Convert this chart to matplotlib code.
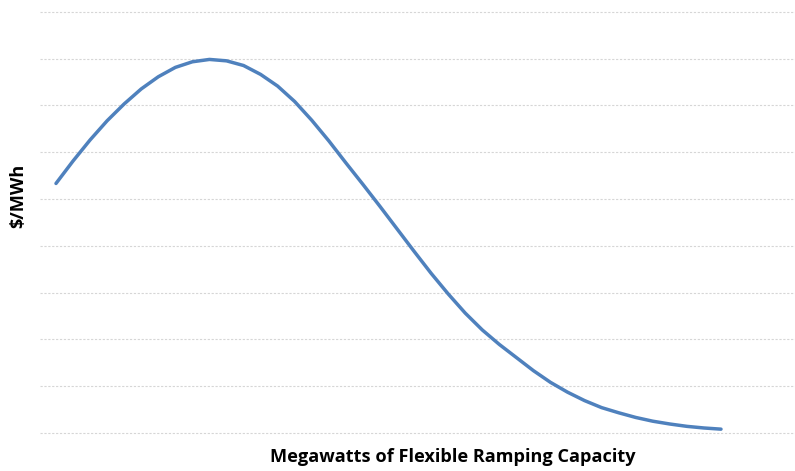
import matplotlib
matplotlib.use("Agg")
import matplotlib.pyplot as plt
import numpy as np

# Data, price in $/MWh-like units, 40 capacity steps
capacity_index = list(range(40))
price = [53.3, 58.1, 62.6, 66.7, 70.3, 73.5, 76.1, 78.1, 79.3, 79.8,
         79.5, 78.5, 76.6, 74.1, 70.8, 66.8, 62.4, 57.7, 53.1, 48.4,
         43.6, 38.8, 34.1, 29.7, 25.6, 22.0, 18.9, 16.1, 13.3, 10.8,
         8.7, 6.9, 5.4, 4.3, 3.3, 2.5, 1.9, 1.4, 1.05, 0.8]
grid_levels = [0, 10, 20, 30, 40, 50, 60, 70, 80, 90]

x_label = "Megawatts of Flexible Ramping Capacity"
y_label = "$/MWh"

fig = plt.figure(figsize=(7.95, 4.71), dpi=100)
ax = fig.add_axes([40/795, 38.1/471, 755/795, (459.3-38.1)/471])

for g in grid_levels:
    ax.axhline(g, color="#d6d6d6", lw=0.8, ls=(0, (2, 1.5)), zorder=1, clip_on=False)

ax.plot(capacity_index, price, color="#4F81BD", lw=2.5, solid_joinstyle="round",
        solid_capstyle="round", zorder=3)

ax.set_xlim(-0.938, 43.34)
ax.set_ylim(0, 90)
ax.set_xticks([])
ax.set_yticks([])
for s in ax.spines.values():
    s.set_visible(False)

fig.text(453/795, 1 - 457/471, x_label, ha="center", va="center",
         fontsize=13.1, fontweight="bold", family="Open Sans")
fig.text(18/795, 1 - 196/471, y_label, ha="center", va="center", rotation=90,
         fontsize=13.1, fontweight="bold", family="Open Sans")

fig.savefig("out.png", dpi=100)
